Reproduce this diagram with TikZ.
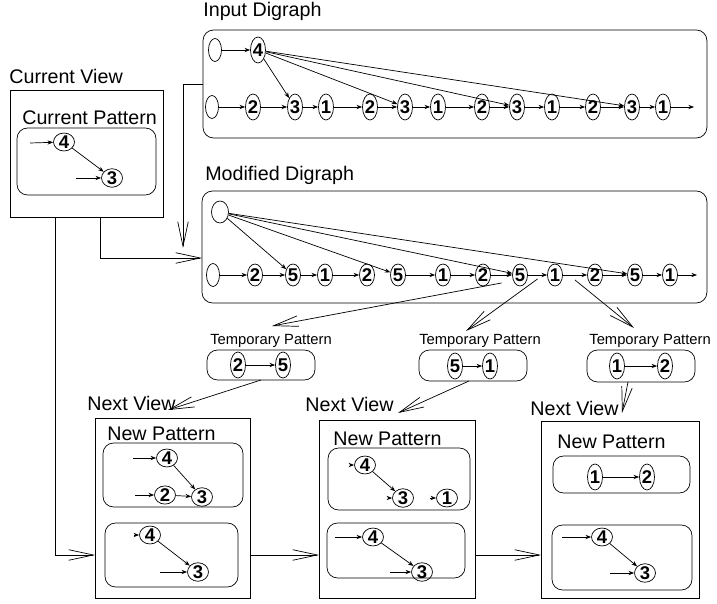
\documentclass[tikz,border=0pt]{standalone}
\usepackage{fontspec}
\setmainfont{Liberation Sans}
\usetikzlibrary{shapes.geometric,arrows.meta,calc}

\tikzset{
  vert/.style={ellipse, draw, inner sep=0pt, minimum width=0.3cm, minimum height=0.52cm, font=\bfseries\fontsize{10.5}{12}\selectfont},
  vertl/.style={ellipse, draw, inner sep=0pt, minimum width=0.42cm, minimum height=0.32cm, font=\bfseries\fontsize{10.5}{12}\selectfont},
  vazio/.style={ellipse, draw, inner sep=0pt, minimum width=0.26cm, minimum height=0.46cm},
  caixa/.style={draw, rounded corners=6pt, anchor=north west, inner sep=0pt, outer sep=0pt},
  vista/.style={draw, anchor=north west, inner sep=0pt, outer sep=0pt},
  titulo/.style={font=\fontsize{11.2}{13}\selectfont, inner sep=0pt, anchor=base west},
  titulop/.style={font=\fontsize{8.4}{10}\selectfont, inner sep=0pt, anchor=base west},
  aresta/.style={draw, -{Stealth[length=3.2pt,width=2.4pt]}},
  seta/.style={-{Straight Barb[length=14pt,width=6pt]}},
}

\begin{document}
\begin{tikzpicture}[x=0.02cm, y=-0.02cm, line width=0.4pt]
  \useasboundingbox (0,0) rectangle (717,604);

  % Vista atual e seu padrao
  \node[titulo] (cvlab) at (9,84) {Current View};
  \node[vista, minimum width=3.06cm, minimum height=2.54cm] (cv) at (10,90) {};
  \node[titulo] (cplab) at (22,125) {Current Pattern};
  \node[caixa, minimum width=2.78cm, minimum height=1.34cm] (cp) at (17,128) {};
  \node[vertl] (c4) at (64,142) {4};
  \node[vertl] (c3) at (112,178) {3};
  \coordinate (c4in) at (30,143);
  \coordinate (c3in) at (76,178);
  \path (c4in) edge[aresta] (c4) (c3in) edge[aresta] (c3) (c4) edge[aresta] (c3);

  % Digrafo de entrada
  \node[titulo] (idlab) at (203,17) {Input Digraph};
  \node[caixa, minimum width=10.08cm, minimum height=2.16cm] (id) at (203,30) {};
  \node[vazio] (ie0) at (215,50) {};
  \node[vert] (i0) at (258,50) {4};
  \node[vazio] (ie1) at (212,107) {};
  \node[vert] (i1) at (253,107) {2};
  \node[vert] (i2) at (295,107) {3};
  \node[vert] (i3) at (326,107) {1};
  \node[vert] (i4) at (370,107) {2};
  \node[vert] (i5) at (405,107) {3};
  \node[vert] (i6) at (438,107) {1};
  \node[vert] (i7) at (482,107) {2};
  \node[vert] (i8) at (517,107) {3};
  \node[vert] (i9) at (552,107) {1};
  \node[vert] (i10) at (593,107) {2};
  \node[vert] (i11) at (632,107) {3};
  \node[vert] (i12) at (663,107) {1};
  \coordinate (ifim) at (694,107);
  \path (ie0) edge[aresta] (i0) (ie1) edge[aresta] (i1) (i1) edge[aresta] (i2)
    (i2) edge[aresta] (i3) (i3) edge[aresta] (i4) (i4) edge[aresta] (i5)
    (i5) edge[aresta] (i6) (i6) edge[aresta] (i7) (i7) edge[aresta] (i8)
    (i8) edge[aresta] (i9) (i9) edge[aresta] (i10) (i10) edge[aresta] (i11)
    (i11) edge[aresta] (i12) (i12) edge[aresta] (ifim);
  \path (i0) edge[aresta] (i2) (i0) edge[aresta] (i5) (i0) edge[aresta] (i8) (i0) edge[aresta] (i11);

  % Digrafo modificado
  \node[titulo] (mdlab) at (205,181) {Modified Digraph};
  \node[caixa, minimum width=10.1cm, minimum height=2.24cm] (md) at (202,191) {};
  \node[vazio, minimum width=0.34cm, minimum height=0.44cm] (me0) at (220,212) {};
  \node[vazio] (me1) at (213,275) {};
  \node[vert, minimum height=0.44cm] (m1) at (255,275) {2};
  \node[vert, minimum height=0.44cm] (m2) at (293,275) {5};
  \node[vert, minimum height=0.44cm] (m3) at (325,275) {1};
  \node[vert, minimum height=0.44cm] (m4) at (367,275) {2};
  \node[vert, minimum height=0.44cm] (m5) at (398,275) {5};
  \node[vert, minimum height=0.44cm] (m6) at (443,275) {1};
  \node[vert, minimum height=0.44cm] (m7) at (483,275) {2};
  \node[vert, minimum height=0.44cm] (m8) at (520,275) {5};
  \node[vert, minimum height=0.44cm] (m9) at (555,275) {1};
  \node[vert, minimum height=0.44cm] (m10) at (595,275) {2};
  \node[vert, minimum height=0.44cm] (m11) at (635,275) {5};
  \node[vert, minimum height=0.44cm] (m12) at (670,275) {1};
  \coordinate (mfim) at (697,275);
  \path (me1) edge[aresta] (m1) (m1) edge[aresta] (m2) (m2) edge[aresta] (m3)
    (m3) edge[aresta] (m4) (m5) edge[aresta] (m6) (m6) edge[aresta] (m7)
    (m7) edge[aresta] (m8) (m8) edge[aresta] (m9) (m9) edge[aresta] (m10)
    (m10) edge[aresta] (m11) (m11) edge[aresta] (m12) (m12) edge[aresta] (mfim);
  \path (me0) edge[aresta] (m2) (me0) edge[aresta] (m5) (me0) edge[aresta] (m8) (me0) edge[aresta] (m11);

  % Ligacoes para o digrafo modificado
  \coordinate (cvs1) at (55,217);
  \coordinate (cvs2) at (100,217);
  \coordinate (mdent) at (202,258);
  \coordinate (mdtopo) at (183,248);
  \draw[seta] (cvs2) |- (mdent);
  \draw[seta] (id.west) -| (mdtopo);

  % Padroes temporarios
  \node[titulop] (t1lab) at (210,345) {Temporary Pattern};
  \node[caixa, minimum width=2.16cm, minimum height=0.6cm] (t1) at (207,350) {};
  \node[vert] (t1a) at (238,365) {2};
  \node[vert] (t1b) at (283,365) {5};
  \node[titulop] (t2lab) at (419,345) {Temporary Pattern};
  \node[caixa, minimum width=2.16cm, minimum height=0.62cm] (t2) at (419,350) {};
  \node[vert] (t2a) at (455,366) {5};
  \node[vert] (t2b) at (490,366) {1};
  \node[titulop] (t3lab) at (589,345) {Temporary Pattern};
  \node[caixa, minimum width=2.16cm, minimum height=0.64cm] (t3) at (587,350) {};
  \node[vert] (t3a) at (617,366) {1};
  \node[vert] (t3b) at (665,366) {2};
  \path (t1a) edge[aresta] (t1b) (t2a) edge[aresta] (t2b) (t3a) edge[aresta] (t3b);

  \coordinate (a1) at (272,326);
  \coordinate (a2) at (466,331);
  \coordinate (a3) at (634,328);
  \draw[seta] ($(m7)!0.5!(m8)+(0,8)$) -- (a1);
  \draw[seta] ($(m8)!0.5!(m9)+(0,4)$) -- (a2);
  \draw[seta] ($(m9)!0.5!(m10)+(0,5)$) -- (a3);

  % Proximas vistas
  \node[titulo] (v1lab) at (87,411) {Next View};
  \node[vista, minimum width=3.1cm, minimum height=3.6cm] (v1) at (95,418) {};
  \node[titulo] (p1lab) at (107,441) {New Pattern};
  \node[caixa, minimum width=2.8cm, minimum height=1.28cm] (p1) at (103,443) {};
  \node[vertl] (p1x4) at (167,458) {4};
  \node[vertl] (p1x2) at (165,495) {2};
  \node[vertl] (p1x3) at (202,497) {3};
  \coordinate (p1in4) at (133,458);
  \coordinate (p1in2) at (135,495);
  \path (p1in4) edge[aresta] (p1x4) (p1in2) edge[aresta] (p1x2) (p1x4) edge[aresta] (p1x3) (p1x2) edge[aresta] (p1x3);
  \node[caixa, minimum width=2.66cm, minimum height=1.28cm] (g1) at (105,523) {};
  \node[vertl] (g1x4) at (150,535) {4};
  \node[vertl] (g1x3) at (198,572) {3};
  \coordinate (g1in4) at (134,535);
  \coordinate (g1in3) at (160,572);
  \path (g1in4) edge[aresta] (g1x4) (g1in3) edge[aresta] (g1x3) (g1x4) edge[aresta] (g1x3);

  \node[titulo] (v2lab) at (305,412) {Next View};
  \node[vista, minimum width=3.12cm, minimum height=3.56cm] (v2) at (319,420) {};
  \node[titulo] (p2lab) at (333,446) {New Pattern};
  \node[caixa, minimum width=2.84cm, minimum height=1.24cm] (p2) at (328,448) {};
  \node[vertl] (p2x4) at (365,465) {4};
  \node[vertl] (p2x3) at (403,498) {3};
  \node[vertl] (p2x1) at (447,498) {1};
  \coordinate (p2in4) at (352,465);
  \coordinate (p2in3) at (388,498);
  \coordinate (p2in1) at (430,498);
  \path (p2in4) edge[aresta] (p2x4) (p2in3) edge[aresta] (p2x3) (p2in1) edge[aresta] (p2x1) (p2x4) edge[aresta] (p2x3);
  \node[caixa, minimum width=2.76cm, minimum height=1.1cm] (g2) at (327,523) {};
  \node[vertl] (g2x4) at (373,537) {4};
  \node[vertl] (g2x3) at (422,572) {3};
  \coordinate (g2in4) at (335,537);
  \coordinate (g2in3) at (390,572);
  \path (g2in4) edge[aresta] (g2x4) (g2in3) edge[aresta] (g2x3) (g2x4) edge[aresta] (g2x3);

  \node[titulo] (v3lab) at (530,416) {Next View};
  \node[vista, minimum width=3.16cm, minimum height=3.54cm] (v3) at (541,421) {};
  \node[titulo] (p3lab) at (557,449) {New Pattern};
  \node[caixa, minimum width=2.74cm, minimum height=0.74cm] (p3) at (553,456) {};
  \node[vert] (p3x1) at (595,477) {1};
  \node[vert] (p3x2) at (647,477) {2};
  \path (p3x1) edge[aresta] (p3x2);
  \node[caixa, minimum width=2.8cm, minimum height=1.3cm] (g3) at (552,525) {};
  \node[vertl] (g3x4) at (602,537) {4};
  \node[vertl] (g3x3) at (645,573) {3};
  \coordinate (g3in4) at (562,537);
  \coordinate (g3in3) at (610,573);
  \path (g3in4) edge[aresta] (g3x4) (g3in3) edge[aresta] (g3x3) (g3x4) edge[aresta] (g3x3);

  % Setas entre vistas
  \coordinate (b1) at (168,410);
  \coordinate (b2) at (398,413);
  \coordinate (b3) at (622,413);
  \draw[seta] (t1.south) -- (b1);
  \draw[seta] ([xshift=-0.08cm]t2.south) -- (b2);
  \draw[seta] ([xshift=-0.26cm]t3.south) -- (b3);
  \draw[seta] (cvs1) |- (v1.west |- g1);
  \draw[seta] (v1.east |- g1) -- (v2.west |- g1);
  \draw[seta] (v2.east |- g1) -- (v3.west |- g1);
\end{tikzpicture}
\end{document}
